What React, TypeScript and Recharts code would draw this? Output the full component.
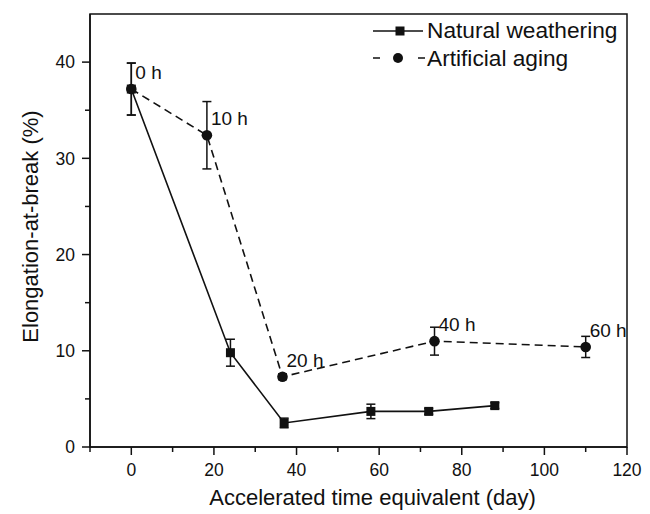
import React from 'react';
import { ComposedChart, Line, XAxis, YAxis, ErrorBar, LabelList, Legend, ReferenceArea, Label } from 'recharts';

// Elongation-at-break vs. accelerated time equivalent
const naturalDays = [0, 24, 37, 58, 72, 88];
const naturalElongation = [37.2, 9.8, 2.5, 3.7, 3.7, 4.3];
const naturalError = [2.7, 1.4, 0.5, 0.75, 0.3, 0.3];

const artificialDays = [0, 18.3, 36.6, 73.4, 110];
const artificialElongation = [37.2, 32.4, 7.3, 11.0, 10.4];
const artificialError = [2.7, 3.5, 0.3, 1.45, 1.1];
const artificialHours = ['0 h', '10 h', '20 h', '40 h', '60 h'];

const xTicks = [-10, 0, 10, 20, 30, 40, 50, 60, 70, 80, 90, 100, 110, 120];
const xMajor = [0, 20, 40, 60, 80, 100, 120];
const yTicks = [0, 5, 10, 15, 20, 25, 30, 35, 40];
const yMajor = [0, 10, 20, 30, 40];

const INK = '#111';
const FONT = '"Liberation Sans", Arial, sans-serif';

const natural = naturalDays.map((day, i) => ({
  day,
  value: naturalElongation[i],
  err: naturalError[i],
}));

const artificial = artificialDays.map((day, i) => ({
  day,
  value: artificialElongation[i],
  err: artificialError[i],
  hours: artificialHours[i],
}));

const XTick = (props: any) => {
  const { x, y, payload } = props;
  const major = xMajor.includes(payload.value);
  return (
    <g>
      <line x1={x} y1={y} x2={x} y2={y + (major ? 8 : 5)} stroke={INK} strokeWidth={1.5} />
      {major && (
        <text x={x} y={y + 29} textAnchor="middle" fontSize={17.5} fill={INK}>
          {payload.value}
        </text>
      )}
    </g>
  );
};

const YTick = (props: any) => {
  const { x, y, payload } = props;
  const major = yMajor.includes(payload.value);
  return (
    <g>
      <line x1={x - (major ? 8 : 5)} y1={y} x2={x} y2={y} stroke={INK} strokeWidth={1.5} />
      {major && (
        <text x={x - 15} y={y} dy="0.36em" textAnchor="end" fontSize={17.5} fill={INK}>
          {payload.value}
        </text>
      )}
    </g>
  );
};

const squareDot = (props: any) => (
  <rect key={`sq-${props.index}`} x={props.cx - 4.5} y={props.cy - 4.5} width={9} height={9} fill={INK} />
);

const circleDot = (props: any) => (
  <circle key={`ci-${props.index}`} cx={props.cx} cy={props.cy} r={5.3} fill={INK} />
);

const hourLabel = (props: any) => (
  <text x={props.x + 4} y={props.y - 10} fontSize={19} fill={INK}>
    {props.value}
  </text>
);

const xTitle = (props: any) => {
  const { viewBox } = props;
  return (
    <text x={viewBox.x + viewBox.width / 2 + 14} y={viewBox.y + 58} textAnchor="middle" fontSize={22} fill={INK}>
      Accelerated time equivalent (day)
    </text>
  );
};

const yTitle = (props: any) => {
  const { viewBox } = props;
  const cy = viewBox.y + viewBox.height / 2 - 4;
  return (
    <text x={38} y={cy} transform={`rotate(-90 38 ${cy})`} textAnchor="middle" fontSize={22} fill={INK}>
      Elongation-at-break (%)
    </text>
  );
};

const legendRows = [
  { name: 'Natural weathering', dashed: false },
  { name: 'Artificial aging', dashed: true },
];

const renderLegend = () => (
  <div style={{ fontFamily: FONT, fontSize: 22.7, color: INK }}>
    {legendRows.map((row) => (
      <div key={row.name} style={{ display: 'flex', alignItems: 'center', height: 27.6 }}>
        <svg width={54} height={20}>
          {row.dashed ? (
            <>
              <line x1={0} y1={10} x2={52} y2={10} stroke={INK} strokeWidth={1.6} strokeDasharray="7 38" />
              <circle cx={25} cy={10} r={5} fill={INK} />
            </>
          ) : (
            <>
              <line x1={0} y1={10} x2={50} y2={10} stroke={INK} strokeWidth={1.6} />
              <rect x={22.5} y={5.5} width={9} height={9} fill={INK} />
            </>
          )}
        </svg>
        <span>{row.name}</span>
      </div>
    ))}
  </div>
);

export default function App() {
  return (
    <div style={{ position: 'absolute', left: 0, top: 0, fontFamily: FONT, background: '#fff' }}>
      <ComposedChart width={650} height={514} margin={{ top: 14, right: 23, bottom: 17, left: 0 }}>
        <XAxis
          dataKey="day"
          type="number"
          domain={[-10, 120]}
          ticks={xTicks}
          interval={0}
          allowDataOverflow
          height={50}
          tickSize={0}
          tickMargin={0}
          tickLine={false}
          axisLine={{ stroke: INK, strokeWidth: 1.5 }}
          tick={<XTick />}
        >
          <Label content={xTitle} />
        </XAxis>
        <YAxis
          type="number"
          domain={[0, 45]}
          ticks={yTicks}
          interval={0}
          allowDataOverflow
          width={90}
          tickSize={0}
          tickMargin={0}
          tickLine={false}
          axisLine={{ stroke: INK, strokeWidth: 1.5 }}
          tick={<YTick />}
        >
          <Label content={yTitle} />
        </YAxis>
        <ReferenceArea x1={-10} x2={120} y1={0} y2={45} fill="none" fillOpacity={0} stroke={INK} strokeWidth={1.5} />
        <Legend
          layout="vertical"
          align="center"
          verticalAlign="middle"
          wrapperStyle={{ left: 373, top: 17, width: 260 }}
          content={renderLegend}
        />
        <Line
          data={natural}
          dataKey="value"
          name="Natural weathering"
          type="linear"
          stroke={INK}
          strokeWidth={1.6}
          dot={squareDot}
          activeDot={false}
          isAnimationActive={false}
        >
          <ErrorBar dataKey="err" direction="y" width={4.5} stroke={INK} strokeWidth={1.5} />
        </Line>
        <Line
          data={artificial}
          dataKey="value"
          name="Artificial aging"
          type="linear"
          stroke={INK}
          strokeWidth={1.6}
          strokeDasharray="8 5"
          dot={circleDot}
          activeDot={false}
          isAnimationActive={false}
        >
          <ErrorBar dataKey="err" direction="y" width={4.5} stroke={INK} strokeWidth={1.5} />
          <LabelList dataKey="hours" content={hourLabel} />
        </Line>
      </ComposedChart>
    </div>
  );
}
